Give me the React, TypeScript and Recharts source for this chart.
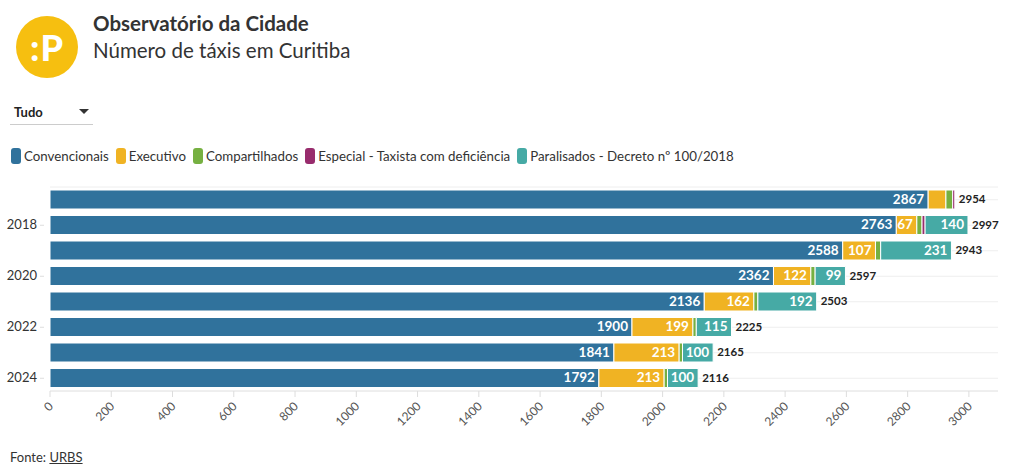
import React from 'react';
import { BarChart, Bar, XAxis, YAxis, CartesianGrid, LabelList } from 'recharts';

const years = ['2017', '2018', '2019', '2020', '2021', '2022', '2023', '2024'];
const convencionais = [2867, 2763, 2588, 2362, 2136, 1900, 1841, 1792];
const executivo = [58, 67, 107, 122, 162, 199, 213, 213];
const compartilhados = [22, 17, 17, 14, 13, 11, 11, 11];
const especial = [7, 10, 0, 0, 0, 0, 0, 0];
const paralisados = [0, 140, 231, 99, 192, 115, 100, 100];
const totals = [2954, 2997, 2943, 2597, 2503, 2225, 2165, 2116];
const xTicks = [0, 200, 400, 600, 800, 1000, 1200, 1400, 1600, 1800, 2000, 2200, 2400, 2600, 2800, 3000];

const seriesNames = [
  'Convencionais',
  'Executivo',
  'Compartilhados',
  'Especial - Taxista com deficiência',
  'Paralisados - Decreto nº 100/2018',
];
const colors = ['#30729c', '#f0b323', '#76b041', '#982c6d', '#46aaa5'];

const data = years.map((y, i) => ({
  year: y,
  conv: convencionais[i],
  exec: executivo[i],
  comp: compartilhados[i],
  esp: especial[i],
  para: paralisados[i],
  total: totals[i],
}));

const FONT = 'Lato, sans-serif';

const InsideLabel = (minVal: number) => (props: any) => {
  const { x, y, width, height, value } = props;
  if (value == null || value < minVal) return null;
  return (
    <text
      x={x + width - 4}
      y={y + height / 2 + 1}
      textAnchor="end"
      dominantBaseline="middle"
      fill="#ffffff"
      fontFamily={FONT}
      fontWeight={700}
      fontSize={13.5}
    >
      {value}
    </text>
  );
};

// Placed on the "conv" bar: total position derived from that bar's own scale
const TotalLabel = (props: any) => {
  const { x, y, width, height, index } = props;
  const conv = convencionais[index];
  const tot = totals[index];
  const px = x + (width * tot) / conv;
  return (
    <text
      x={px + 4}
      y={y + height / 2 + 1}
      textAnchor="start"
      dominantBaseline="middle"
      fill="#222"
      fontFamily={FONT}
      fontWeight={700}
      fontSize={11.5}
    >
      {tot}
    </text>
  );
};

const XTick = (props: any) => {
  const { x, y, payload } = props;
  const ax = x + 4;
  const ay = y + 8;
  return (
    <text
      x={ax}
      y={ay}
      transform={`rotate(-45, ${ax}, ${ay})`}
      textAnchor="end"
      fill="#555"
      fontFamily={FONT}
      fontSize={12}
    >
      {payload.value}
    </text>
  );
};

const YTick = (props: any) => {
  const { y, payload } = props;
  const yr = Number(payload.value);
  if (yr % 2 !== 0) return null;
  return (
    <g>
      <line x1={40} x2={44} y1={y} y2={y} stroke="#ddd" />
      <text
        x={37}
        y={y}
        textAnchor="end"
        dominantBaseline="middle"
        fill="#333"
        fontFamily={FONT}
        fontSize={13}
      >
        {payload.value}
      </text>
    </g>
  );
};

export default function App() {
  return (
    <div
      style={{
        position: 'fixed',
        left: 0,
        top: 0,
        width: 1020,
        height: 476,
        background: '#fff',
        fontFamily: FONT,
        color: '#333',
        overflow: 'hidden',
      }}
    >
      {/* Logo */}
      <div
        style={{
          position: 'absolute',
          left: 16,
          top: 16,
          width: 62,
          height: 62,
          borderRadius: '50%',
          background: '#f6bf10',
          color: '#fff',
          fontWeight: 900,
          fontSize: 36,
          display: 'flex',
          alignItems: 'center',
          justifyContent: 'center',
          fontFamily: 'Lato, sans-serif',
          letterSpacing: 1,
        }}
      >
        :P
      </div>
      {/* Titles */}
      <div
        style={{
          position: 'absolute',
          left: 93,
          top: 10,
          fontSize: 20.5,
          fontWeight: 700,
          color: '#333',
          lineHeight: '26px',
          whiteSpace: 'nowrap',
        }}
      >
        Observatório da Cidade
      </div>
      <div
        style={{
          position: 'absolute',
          left: 93,
          top: 36,
          fontSize: 20.5,
          fontWeight: 400,
          color: '#333',
          lineHeight: '28px',
          whiteSpace: 'nowrap',
        }}
      >
        Número de táxis em Curitiba
      </div>
      {/* Dropdown */}
      <div
        style={{
          position: 'absolute',
          left: 10,
          top: 102,
          width: 83,
          height: 22,
          borderBottom: '1px solid #ccc',
        }}
      >
        <span style={{ position: 'absolute', left: 4, top: 2, fontSize: 13, fontWeight: 700, color: '#222' }}>Tudo</span>
        <svg style={{ position: 'absolute', left: 69, top: 7 }} width={11} height={6}>
          <polygon points="0,0 10,0 5,5" fill="#333" />
        </svg>
      </div>
      {/* Legend */}
      <div
        style={{
          position: 'absolute',
          left: 11,
          top: 147,
          display: 'flex',
          alignItems: 'center',
          fontSize: 13.3,
          color: '#333',
          whiteSpace: 'nowrap',
        }}
      >
        {seriesNames.map((n, i) => (
          <div key={n} style={{ display: 'flex', alignItems: 'center', marginRight: 7 }}>
            <div
              style={{
                width: 10,
                height: 16,
                borderRadius: 3,
                background: colors[i],
                marginRight: 3,
              }}
            />
            <span style={{ lineHeight: '18px' }}>{n}</span>
          </div>
        ))}
      </div>
      {/* Chart */}
      <div style={{ position: 'absolute', left: 0, top: 0 }}>
        <BarChart
          width={1020}
          height={476}
          data={data}
          layout="vertical"
          margin={{ top: 187, right: 22, bottom: 0, left: 10 }}
          barSize={19}
        >
          <CartesianGrid horizontal={true} vertical={false} stroke="#eeeeee" />
          <XAxis
            type="number"
            domain={[0, 3095]}
            ticks={xTicks}
            interval={0}
            axisLine={{ stroke: '#e6e6e6' }}
            tickLine={{ stroke: '#dddddd' }}
            tickSize={6}
            tick={<XTick />}
            height={85}
          />
          <YAxis
            type="category"
            dataKey="year"
            width={40}
            axisLine={false}
            tickLine={false}
            interval={0}
            tick={<YTick />}
          />
          <Bar dataKey="conv" stackId="a" fill={colors[0]} stroke="#fff" strokeWidth={1} isAnimationActive={false}>
            <LabelList dataKey="conv" content={InsideLabel(0)} />
            <LabelList dataKey="total" content={TotalLabel} />
          </Bar>
          <Bar dataKey="exec" stackId="a" fill={colors[1]} stroke="#fff" strokeWidth={1} isAnimationActive={false}>
            <LabelList dataKey="exec" content={InsideLabel(60)} />
          </Bar>
          <Bar dataKey="comp" stackId="a" fill={colors[2]} stroke="#fff" strokeWidth={1} isAnimationActive={false} />
          <Bar dataKey="esp" stackId="a" fill={colors[3]} stroke="#fff" strokeWidth={1} isAnimationActive={false} />
          <Bar dataKey="para" stackId="a" fill={colors[4]} stroke="#fff" strokeWidth={1} isAnimationActive={false}>
            <LabelList dataKey="para" content={InsideLabel(1)} />
          </Bar>
        </BarChart>
      </div>
      {/* Footer */}
      <div style={{ position: 'absolute', left: 10, top: 449, fontSize: 13, color: '#333' }}>
        Fonte: <span style={{ textDecoration: 'underline' }}>URBS</span>
      </div>
    </div>
  );
}
